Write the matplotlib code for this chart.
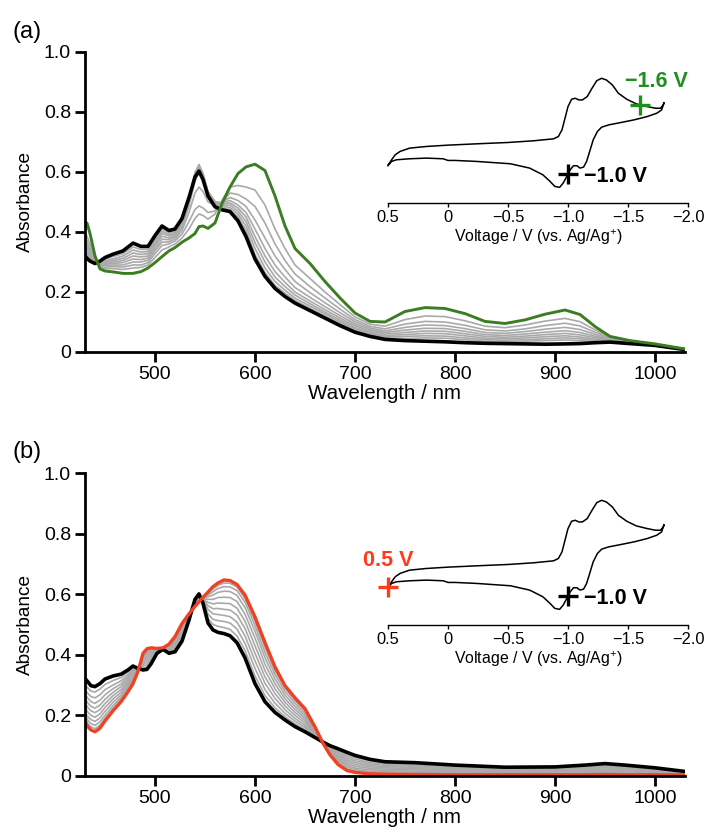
import numpy as np
import matplotlib
matplotlib.use("Agg")
import matplotlib.pyplot as plt

plt.rcParams["font.family"] = ["Liberation Sans", "DejaVu Sans"]
plt.rcParams["mathtext.fontset"] = "custom"
plt.rcParams["mathtext.rm"] = "Liberation Sans"
plt.rcParams["mathtext.default"] = "regular"

# ---------------- (a) reduction: -1.0 V -> -1.6 V ----------------
wl_a = [430, 432, 435, 440, 445, 450, 458, 468, 478, 486, 493, 500, 507, 514, 520,
        527, 534, 540, 544, 548, 553, 560, 567, 575, 583, 591, 600, 610, 620, 630,
        640, 655, 670, 685, 700, 715, 730, 750, 770, 790, 810, 830, 850, 870, 890,
        910, 925, 940, 955, 975, 1000, 1030]

start_a = [0.320, 0.312, 0.303, 0.295, 0.303, 0.315, 0.326, 0.337, 0.363, 0.352,
           0.352, 0.388, 0.420, 0.405, 0.410, 0.445, 0.515, 0.583, 0.603, 0.575,
           0.520, 0.484, 0.474, 0.468, 0.437, 0.385, 0.310, 0.252, 0.212, 0.185,
           0.163, 0.138, 0.113, 0.088, 0.066, 0.052, 0.042, 0.038, 0.036, 0.034,
           0.031, 0.029, 0.028, 0.027, 0.026, 0.027, 0.028, 0.031, 0.033, 0.028,
           0.022, 0.008]

end_a = [0.420, 0.430, 0.395, 0.320, 0.277, 0.270, 0.267, 0.262, 0.262, 0.268,
         0.280, 0.298, 0.318, 0.337, 0.348, 0.366, 0.380, 0.395, 0.418, 0.420,
         0.412, 0.430, 0.495, 0.550, 0.595, 0.617, 0.626, 0.605, 0.520, 0.420,
         0.345, 0.295, 0.235, 0.180, 0.130, 0.102, 0.100, 0.135, 0.148, 0.145,
         0.128, 0.102, 0.095, 0.107, 0.126, 0.140, 0.125, 0.085, 0.052, 0.038,
         0.027, 0.010]

gray_a = [
    [.33, .322, .31, .297, .302, .31, .318, .328, .35, .342, .342, .378, .41, .398, .405,
     .44, .515, .595, .62, .59, .525, .49, .48, .475, .45, .405, .325, .265, .222, .196,
     .172, .146, .12, .095, .072, .057, .047, .045, .047, .046, .041, .036, .034, .036,
     .038, .04, .038, .035, .034, .029, .023, .009],
    [.34, .33, .315, .298, .30, .305, .31, .32, .34, .333, .335, .37, .402, .392, .40,
     .435, .512, .598, .625, .595, .53, .495, .485, .482, .46, .42, .345, .28, .235, .206,
     .18, .153, .127, .10, .077, .061, .051, .052, .054, .053, .047, .041, .039, .041,
     .044, .047, .044, .039, .036, .03, .023, .009],
    [.345, .337, .32, .30, .297, .30, .305, .312, .33, .325, .328, .362, .395, .387, .395,
     .43, .507, .595, .62, .595, .535, .50, .49, .49, .47, .435, .365, .30, .25, .218,
     .19, .161, .133, .106, .082, .065, .055, .058, .062, .061, .054, .046, .044, .047,
     .051, .054, .05, .043, .038, .031, .024, .009],
    [.35, .345, .325, .301, .294, .296, .30, .305, .32, .317, .32, .355, .386, .38, .39,
     .423, .50, .585, .61, .59, .535, .502, .495, .497, .48, .45, .385, .32, .268, .232,
     .20, .17, .141, .113, .088, .07, .06, .065, .07, .069, .061, .052, .049, .053,
     .058, .062, .057, .048, .04, .032, .024, .01],
    [.36, .352, .33, .302, .291, .292, .295, .298, .31, .308, .313, .346, .376, .374, .384,
     .415, .487, .57, .60, .583, .53, .50, .498, .505, .49, .465, .41, .345, .29, .25,
     .215, .182, .151, .121, .094, .075, .065, .073, .079, .078, .069, .058, .055, .06,
     .066, .071, .065, .053, .042, .033, .025, .01],
    [.37, .36, .335, .303, .288, .288, .29, .29, .30, .30, .306, .338, .366, .367, .377,
     .405, .465, .53, .55, .535, .50, .49, .50, .515, .505, .485, .44, .38, .32, .275,
     .235, .198, .164, .131, .101, .08, .07, .082, .09, .088, .078, .065, .062, .068,
     .076, .082, .075, .059, .045, .034, .025, .01],
    [.38, .37, .345, .305, .284, .283, .285, .283, .29, .29, .298, .328, .355, .36, .37,
     .393, .435, .475, .487, .48, .465, .47, .50, .53, .525, .51, .485, .43, .36, .305,
     .26, .218, .18, .143, .108, .086, .077, .093, .102, .10, .089, .074, .07, .077,
     .088, .096, .087, .066, .048, .035, .026, .01],
    [.40, .385, .36, .307, .28, .278, .278, .275, .28, .282, .29, .315, .34, .35, .36,
     .38, .41, .445, .46, .455, .443, .46, .505, .55, .555, .55, .54, .49, .41, .345,
     .29, .245, .20, .158, .117, .093, .086, .108, .12, .118, .104, .086, .081, .09,
     .103, .112, .101, .074, .05, .037, .026, .01],
]

# ---------------- (b) oxidation: -1.0 V -> 0.5 V ----------------
wl_b = [430, 433, 436, 440, 445, 450, 458, 466, 473, 478, 483, 488, 492, 496, 502,
        508, 514, 520, 527, 534, 540, 544, 548, 553, 558, 563, 569, 575, 582, 590,
        600, 610, 620, 630, 640, 650, 660, 668, 675, 683, 692, 700, 715, 730, 760,
        800, 850, 900, 930, 950, 970, 1000, 1030]

start_b = [0.322, 0.310, 0.298, 0.295, 0.305, 0.320, 0.330, 0.336, 0.350, 0.363,
           0.355, 0.350, 0.352, 0.370, 0.405, 0.418, 0.405, 0.410, 0.445, 0.515,
           0.583, 0.601, 0.570, 0.505, 0.482, 0.474, 0.470, 0.463, 0.440, 0.390,
           0.305, 0.245, 0.210, 0.185, 0.163, 0.146, 0.127, 0.112, 0.100, 0.090,
           0.078, 0.068, 0.055, 0.047, 0.044, 0.036, 0.029, 0.030, 0.036, 0.041,
           0.036, 0.027, 0.015]

end_b = [0.179, 0.162, 0.152, 0.146, 0.158, 0.182, 0.215, 0.245, 0.278, 0.305,
         0.345, 0.405, 0.420, 0.423, 0.421, 0.423, 0.435, 0.460, 0.503, 0.535,
         0.560, 0.575, 0.590, 0.607, 0.625, 0.637, 0.647, 0.645, 0.632, 0.597,
         0.525, 0.440, 0.360, 0.298, 0.258, 0.222, 0.162, 0.108, 0.070, 0.038,
         0.018, 0.012, 0.007, 0.006, 0.005, 0.004, 0.004, 0.004, 0.004, 0.005,
         0.004, 0.004, 0.003]

gray_b = [
    [.30, .29, .28, .277, .287, .302, .315, .325, .343, .358, .356, .356, .36, .377, .407,
     .419, .409, .416, .452, .517, .58, .598, .575, .52, .50, .494, .49, .484, .462, .414,
     .33, .265, .225, .196, .172, .153, .13, .112, .097, .085, .072, .062, .05, .043, .04,
     .033, .027, .027, .033, .037, .033, .025, .014],
    [.285, .272, .262, .258, .268, .285, .30, .314, .335, .352, .357, .362, .368, .383, .409,
     .42, .413, .422, .459, .519, .577, .595, .578, .535, .517, .513, .51, .505, .485, .438,
     .355, .285, .24, .207, .181, .16, .133, .111, .094, .08, .066, .056, .045, .039, .036,
     .03, .024, .025, .03, .034, .03, .022, .013],
    [.27, .256, .245, .24, .25, .268, .288, .304, .328, .346, .356, .368, .376, .389, .411,
     .42, .417, .428, .466, .521, .575, .592, .58, .55, .535, .533, .53, .526, .508, .462,
     .38, .306, .256, .219, .19, .167, .136, .111, .091, .075, .06, .05, .04, .035, .032,
     .027, .022, .022, .027, .03, .027, .02, .011],
    [.255, .24, .23, .224, .234, .253, .276, .295, .321, .34, .355, .374, .384, .395, .413,
     .42, .421, .434, .473, .523, .572, .589, .582, .562, .552, .553, .55, .548, .531, .487,
     .405, .327, .272, .231, .2, .175, .139, .111, .088, .07, .054, .044, .035, .031, .028,
     .024, .02, .02, .024, .027, .024, .018, .01],
    [.24, .225, .215, .209, .219, .239, .265, .285, .314, .334, .354, .38, .392, .401, .414,
     .421, .424, .44, .48, .525, .57, .586, .584, .573, .568, .571, .57, .569, .554, .511,
     .43, .348, .288, .243, .21, .183, .142, .11, .085, .065, .048, .038, .03, .027, .024,
     .021, .017, .017, .021, .023, .021, .016, .009],
    [.225, .21, .20, .194, .205, .226, .254, .276, .307, .328, .353, .386, .399, .406, .415,
     .421, .427, .445, .486, .527, .568, .583, .585, .583, .583, .589, .59, .589, .576, .534,
     .455, .369, .304, .255, .22, .191, .145, .11, .082, .06, .042, .032, .025, .023, .02,
     .018, .015, .015, .017, .02, .017, .013, .008],
    [.21, .195, .186, .18, .192, .213, .243, .267, .30, .322, .352, .392, .405, .411, .417,
     .422, .43, .45, .492, .529, .566, .58, .586, .592, .597, .606, .61, .609, .596, .556,
     .478, .39, .32, .267, .23, .199, .148, .11, .079, .055, .036, .026, .02, .019, .016,
     .014, .012, .012, .014, .016, .014, .011, .006],
    [.20, .183, .173, .167, .179, .20, .232, .259, .293, .316, .35, .397, .41, .415, .418,
     .422, .432, .454, .496, .531, .564, .578, .587, .598, .608, .619, .625, .624, .612, .574,
     .497, .408, .335, .279, .24, .207, .152, .109, .076, .05, .03, .021, .015, .014, .012,
     .011, .009, .009, .011, .012, .01, .008, .005],
    [.19, .172, .162, .156, .168, .19, .223, .252, .286, .31, .348, .401, .415, .419, .42,
     .423, .434, .457, .50, .533, .562, .576, .588, .603, .617, .629, .637, .636, .624, .587,
     .512, .425, .348, .29, .249, .215, .156, .109, .073, .044, .024, .016, .011, .01, .008,
     .007, .006, .006, .007, .008, .007, .006, .004],
]

# ---------------- cyclic voltammogram (arb. current) ----------------
cv_v = [0.50, 0.47, 0.44, 0.40, 0.32, 0.18, 0.00, -0.24, -0.50, -0.71, -0.88, -0.92,
        -0.95, -0.975, -1.00, -1.03, -1.06, -1.09, -1.12, -1.16, -1.20, -1.24, -1.28,
        -1.32, -1.37, -1.42, -1.49, -1.57, -1.66, -1.73, -1.77, -1.795, -1.80,
        -1.78, -1.74, -1.66, -1.55, -1.44, -1.34, -1.28, -1.245, -1.21, -1.185, -1.155,
        -1.13, -1.10, -1.075, -1.045, -1.015, -0.99, -0.96, -0.93, -0.89, -0.85, -0.79,
        -0.68, -0.52, -0.24, -0.06, 0.00, 0.04, 0.18, 0.32, 0.43, 0.47, 0.50]
cv_i = [-0.6, 0.25, 1.0, 1.5, 2.0, 2.25, 2.45, 2.65, 2.85, 3.1, 3.4, 3.75,
        4.75, 6.5, 8.25, 9.35, 9.5, 9.25, 9.25, 9.75, 11.0, 12.15, 12.5,
        12.25, 11.5, 10.25, 9.35, 8.65, 8.25, 8.0, 8.0, 8.5, 8.85,
        7.75, 7.25, 6.75, 6.25, 5.85, 5.5, 5.15, 4.5, 3.25, 1.75, 0.0,
        -0.85, -1.0, -0.65, -0.65, -1.35, -2.25, -3.25, -3.9, -3.75, -3.0, -2.0,
        -1.0, -0.35, 0.0, 0.15, 0.15, 0.4, 0.5, 0.4, 0.25, 0.0, -0.6]

v_start, i_start = -1.0, -1.9
v_reduce, i_reduce = -1.6, 8.5
v_oxid, i_oxid = 0.5, -0.6

GREEN = "#3b7d23"
GREEN_TXT = "#1f8f1f"
RED = "#ef4123"
RED_TXT = "#ff3b1c"
GRAY = "#a9a9a9"

W, H = 704, 827
fig = plt.figure(figsize=(W / 100, H / 100), dpi=100)


def spectra_axes(top_px, bottom_px):
    ax = fig.add_axes([85 / W, 1 - bottom_px / H, 600 / W, (bottom_px - top_px) / H])
    ax.spines[["top", "right"]].set_visible(False)
    for s in ("left", "bottom"):
        ax.spines[s].set_linewidth(2.0)
    ax.set_xlim(430, 1030)
    ax.set_ylim(0, 1.0)
    ax.set_xticks([500, 600, 700, 800, 900, 1000])
    ax.set_yticks([0, 0.2, 0.4, 0.6, 0.8, 1.0])
    ax.set_yticklabels(["0", "0.2", "0.4", "0.6", "0.8", "1.0"])
    ax.tick_params(direction="out", length=7, width=2, labelsize=14, pad=3)
    ax.set_xlabel("Wavelength / nm", fontsize=14.8, labelpad=1)
    ax.set_ylabel("Absorbance", fontsize=13.7)
    ax.yaxis.set_label_coords(-0.085, 0.5)
    return ax


def cv_inset(bottom_px):
    ax = fig.add_axes([388 / W, 1 - bottom_px / H, 300 / W, 133 / H])
    ax.patch.set_alpha(0)
    for s in ("left", "top", "right"):
        ax.spines[s].set_visible(False)
    ax.spines["bottom"].set_linewidth(1.0)
    ax.set_xlim(0.5, -2.0)
    ax.set_ylim(-6.25, 13.75)
    ax.set_yticks([])
    ax.set_xticks([0.5, 0, -0.5, -1.0, -1.5, -2.0])
    ax.set_xticklabels(["0.5", "0", "\u22120.5", "\u22121.0", "\u22121.5", "\u22122.0"])
    ax.tick_params(axis="x", direction="out", length=3, width=1, labelsize=11.8, pad=2)
    ax.set_xlabel("Voltage / V (vs. Ag/Ag$^{+}$)", fontsize=11.4, labelpad=1.5)
    ax.plot(cv_v, cv_i, color="black", lw=1.1, clip_on=False)
    return ax


def mark(ax, v, i, color, label, txt_color, offset, ha):
    ax.plot([v], [i], marker="+", ms=14, mew=2.4, color=color, clip_on=False, zorder=5)
    ax.annotate(label, (v, i), xytext=offset, textcoords="offset points",
                ha=ha, va="center", fontsize=15.5, fontweight="bold", color=txt_color)


# panel (a)
ax_a = spectra_axes(52, 352)
for g in gray_a:
    ax_a.plot(wl_a, g, color=GRAY, lw=1.2)
ax_a.plot(wl_a, start_a, color="black", lw=2.6)
ax_a.plot(wl_a, end_a, color=GREEN, lw=2.1)

cv_a = cv_inset(203)
mark(cv_a, v_reduce, i_reduce, GREEN_TXT, "\u22121.6 V", GREEN_TXT, (-11, 17), "left")
mark(cv_a, v_start, i_start, "black", "\u22121.0 V", "black", (11.5, -1.5), "left")

# panel (b)
ax_b = spectra_axes(473, 776)
for g in gray_b:
    ax_b.plot(wl_b, g, color=GRAY, lw=1.2)
ax_b.plot(wl_b, start_b, color="black", lw=2.6)
ax_b.plot(wl_b, end_b, color=RED, lw=2.4)

cv_b = cv_inset(625)
mark(cv_b, v_oxid, i_oxid, RED_TXT, "0.5 V", RED_TXT, (0, 19.5), "center")
mark(cv_b, v_start, i_start, "black", "\u22121.0 V", "black", (11.5, -1.5), "left")

fig.text(27 / W, 1 - 32 / H, "(a)", fontsize=17, ha="center", va="center")
fig.text(27 / W, 1 - 452 / H, "(b)", fontsize=17, ha="center", va="center")

fig.savefig("out.png", dpi=100)
